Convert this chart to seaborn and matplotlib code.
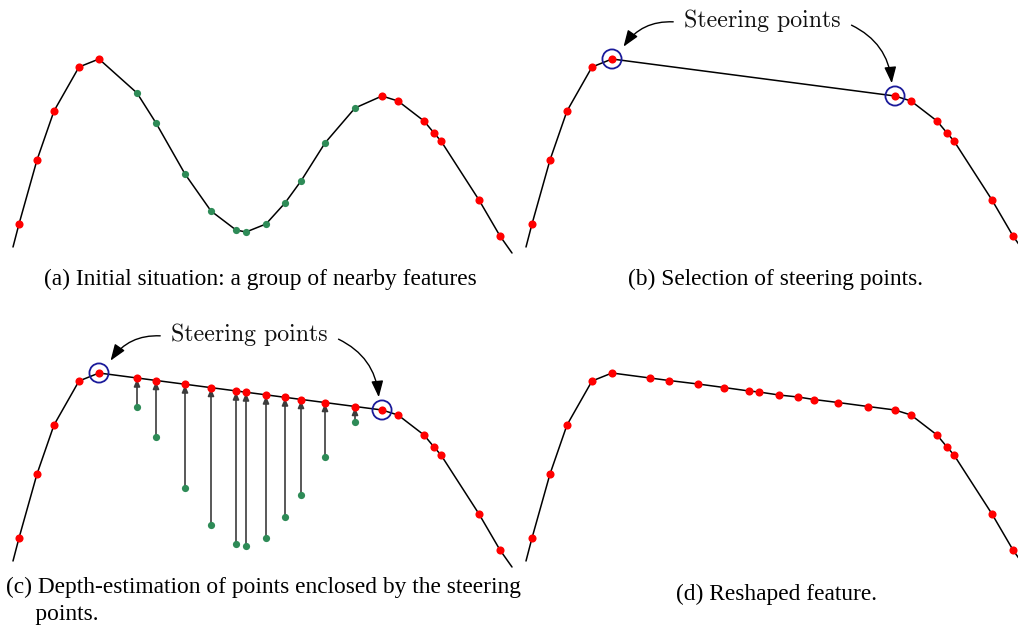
import numpy as np
import pandas as pd
import matplotlib
matplotlib.use('Agg')
import matplotlib.pyplot as plt
import seaborn as sns
from matplotlib.patches import FancyArrowPatch

sns.set_style('white')

# feature coordinates (x along the feature, h = height)
LEFT_X = [19, 37, 54, 79, 99]
LEFT_H = [36, 100, 149, 193, 201]
GREEN_X = [137, 156, 185, 211, 236, 246, 266, 285, 301, 325, 355]
GREEN_H = [167, 137, 86, 49, 30, 28, 36, 57, 79, 117, 152]
RIGHT_X = [382, 398, 424, 434, 441, 479, 500]
RIGHT_H = [164, 159, 139, 127, 119, 60, 24]
START_PT = (13, 13)
END_PT = (512, 7)
# heights of green points after projection onto steering segment
DEPTH_H = [196, 193.5, 190, 186.5, 183, 182, 179, 177, 174.5, 171.5, 167.5]
STEER_IDX = (4, 0)  # last of left group, first of right group

CAPTIONS = {
    'a': '(a) Initial situation: a group of nearby features',
    'b': '(b) Selection of steering points.',
    'c': '(c) Depth-estimation of points enclosed by the steering\n     points.',
    'd': '(d) Reshaped feature.',
}
LABEL = 'Steering points'

RED = '#ff0000'
GREEN = '#2e8b57'
BLUE = '#1a1a9a'

W, H = 1018, 637
fig = plt.figure(figsize=(W / 100, H / 100), dpi=100)


def make_ax(left, top, width, height=260):
    ax = fig.add_axes([left / W, 1 - (top + height) / H, width / W, height / H])
    ax.set_xlim(0, width)
    ax.set_ylim(0, height)
    ax.axis('off')
    return ax


def draw_line(ax, xs, hs):
    df = pd.DataFrame({'x': xs, 'h': hs})
    sns.lineplot(data=df, x='x', y='h', sort=False, color='black', lw=1.1,
                 ax=ax, estimator=None)


def draw_dots(ax, xs, hs, color, size):
    df = pd.DataFrame({'x': xs, 'h': hs})
    sns.scatterplot(data=df, x='x', y='h', color=color, s=size,
                    linewidth=0, ax=ax, zorder=5)


def draw_circles(ax):
    ax.scatter([LEFT_X[STEER_IDX[0]], RIGHT_X[STEER_IDX[1]]],
               [LEFT_H[STEER_IDX[0]], RIGHT_H[STEER_IDX[1]]],
               s=190, facecolors='none', edgecolors=BLUE, linewidths=1.3, zorder=6)


def draw_label(ax):
    ax.text(249, 239, LABEL, family='cmr10', fontsize=17.2,
            ha='center', va='center', color='#111111')
    arr1 = FancyArrowPatch((163, 238), (109, 211), connectionstyle='arc3,rad=0.3',
                           arrowstyle='-|>,head_length=0.9,head_width=0.33',
                           mutation_scale=11, color='black', lw=1.0, zorder=7)
    arr2 = FancyArrowPatch((336, 236), (379, 174), connectionstyle='arc3,rad=-0.3',
                           arrowstyle='-|>,head_length=0.9,head_width=0.33',
                           mutation_scale=11, color='black', lw=1.0, zorder=7)
    ax.add_patch(arr1)
    ax.add_patch(arr2)


full_x = [START_PT[0]] + LEFT_X + GREEN_X + RIGHT_X + [END_PT[0]]
full_h = [START_PT[1]] + LEFT_H + GREEN_H + RIGHT_H + [END_PT[1]]
steer_x = [START_PT[0]] + LEFT_X + RIGHT_X + [END_PT[0]]
steer_h = [START_PT[1]] + LEFT_H + RIGHT_H + [END_PT[1]]
new_x = [START_PT[0]] + LEFT_X + GREEN_X + RIGHT_X + [END_PT[0]]
new_h = [START_PT[1]] + LEFT_H + DEPTH_H + RIGHT_H + [END_PT[1]]

# (a)
ax_a = make_ax(0, 0, 513)
draw_line(ax_a, full_x, full_h)
draw_dots(ax_a, LEFT_X + RIGHT_X, LEFT_H + RIGHT_H, RED, 34)
draw_dots(ax_a, GREEN_X, GREEN_H, GREEN, 27)

# (b)
ax_b = make_ax(513, 0, 505)
draw_line(ax_b, steer_x, steer_h)
draw_dots(ax_b, LEFT_X + RIGHT_X, LEFT_H + RIGHT_H, RED, 34)
draw_circles(ax_b)
draw_label(ax_b)

# (c)
ax_c = make_ax(0, 314, 513)
draw_line(ax_c, steer_x, steer_h)
for gx, gh, dh in zip(GREEN_X, GREEN_H, DEPTH_H):
    ax_c.add_patch(FancyArrowPatch((gx, gh), (gx, dh - 1.0),
                                   arrowstyle='-|>,head_length=0.7,head_width=0.3',
                                   mutation_scale=6, color='#3c3c3c', lw=1.2,
                                   shrinkA=0, shrinkB=0, zorder=4))
draw_dots(ax_c, GREEN_X, GREEN_H, GREEN, 27)
draw_dots(ax_c, LEFT_X + GREEN_X + RIGHT_X, LEFT_H + DEPTH_H + RIGHT_H, RED, 34)
draw_circles(ax_c)
draw_label(ax_c)

# (d)
ax_d = make_ax(513, 314, 505)
draw_line(ax_d, new_x, new_h)
draw_dots(ax_d, LEFT_X + GREEN_X + RIGHT_X, LEFT_H + DEPTH_H + RIGHT_H, RED, 34)

cap_font = dict(family='Liberation Serif', fontsize=16.8, color='black')
fig.text(260 / W, 1 - 279 / H, CAPTIONS['a'], ha='center', va='center', **cap_font)
fig.text(776 / W, 1 - 279 / H, CAPTIONS['b'], ha='center', va='center', **cap_font)
fig.text(6 / W, 1 - 601 / H, CAPTIONS['c'], ha='left', va='center',
         linespacing=1.35, **cap_font)
fig.text(776 / W, 1 - 594 / H, CAPTIONS['d'], ha='center', va='center', **cap_font)

fig.savefig('out.png', dpi=100)
